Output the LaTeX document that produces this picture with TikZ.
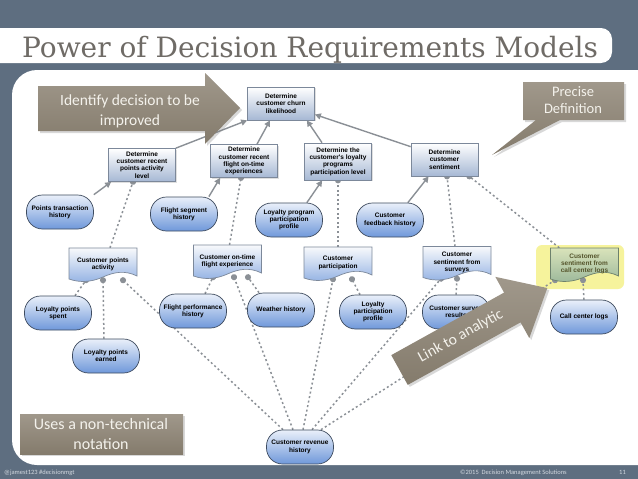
\documentclass[tikz,border=0pt]{standalone}
\usepackage{fontspec}
\usetikzlibrary{arrows.meta,shadows}

\newfontfamily\dmnfont{Liberation Sans}
\newfontfamily\callfont{Carlito}
\newfontfamily\titlefont{DejaVu Serif}

\definecolor{slate}{HTML}{5E6E80}
\definecolor{titleGray}{HTML}{6F6B66}
\definecolor{footText}{HTML}{D3D9E0}
\definecolor{taupeLight}{HTML}{A0988B}
\definecolor{taupeDark}{HTML}{847B6C}
\definecolor{calloutText}{HTML}{F4F2EC}
\definecolor{linkGray}{HTML}{8B9096}
\definecolor{boxEdge}{HTML}{7C889A}
\definecolor{boxBlue}{HTML}{A6B8D4}
\definecolor{ovalEdge}{HTML}{3E4B5F}
\definecolor{ovalBlue}{HTML}{6F98DA}
\definecolor{glow}{HTML}{F6F39C}
\definecolor{hiTop}{HTML}{D9E3BA}
\definecolor{hiBottom}{HTML}{9CB89B}
\definecolor{hiText}{HTML}{55552C}

\pgfdeclarelayer{paper}
\pgfdeclarelayer{edges}
\pgfsetlayers{paper,edges,main}

% knowledge source: box with a wavy bottom, then its text node
% #1 shape style, #2 name, #3 x, #4 y, #5 text
\newcommand{\ksource}[5][ksShape]{%
  \path[#1] ({#3-34},{#4-16}) -- ({#3+34},{#4-16}) -- ({#3+34},{#4+12})
    .. controls ({#3+22},{#4+6}) and ({#3+11},{#4+8}) .. ({#3},{#4+13})
    .. controls ({#3-11},{#4+18}) and ({#3-23},{#4+19}) .. ({#3-34},{#4+15})
    -- cycle;
  \node[ksText] (#2) at (#3,#4) {#5};%
}

\begin{document}
\begin{tikzpicture}[x=1pt,y=-1pt]
% y runs downwards, units are pixels of the slide

% style
\tikzset{
    dmnText/.style={font=\dmnfont\bfseries\fontsize{6.5}{7.3}\selectfont, align=center, inner sep=1pt},
    decision/.style={dmnText, draw=boxEdge, line width=0.7pt, top color=white, bottom color=boxBlue,
        minimum width=67, minimum height=33,
        drop shadow={shadow xshift=1pt, shadow yshift=-1pt, opacity=0.25}},
    inputData/.style={dmnText, draw=ovalEdge, line width=0.7pt, rounded corners=16pt,
        top color=white!85!ovalBlue, bottom color=ovalBlue, minimum width=67, minimum height=34},
    ksShape/.style={draw=boxEdge, line width=0.7pt, top color=white!92!boxBlue, bottom color=ovalBlue!75!white},
    ksHigh/.style={draw=hiBottom!70!black, line width=0.7pt, top color=hiTop, bottom color=hiBottom},
    ksText/.style={dmnText, minimum width=68, minimum height=32},
    infoReq/.style={draw=linkGray, line width=1.4pt, -{Triangle[length=6pt, width=6pt]}},
    authReq/.style={draw=linkGray, line width=1.5pt, dash pattern=on 2pt off 2.6pt,
        -{Circle[length=6pt]}, shorten >=-3pt},
    calloutFill/.style={top color=taupeLight, bottom color=taupeDark,
        drop shadow={shadow xshift=2pt, shadow yshift=-2pt, opacity=0.3}},
    calloutText/.style={text=calloutText, align=center, font=\callfont\fontsize{15.5}{20}\selectfont}
}

\useasboundingbox (0,0) rectangle (638,479);

% slide background
\begin{pgfonlayer}{paper}
\fill[slate] (0,0) rectangle (638,479);
\fill[white, rounded corners=11pt] (-20,28) rectangle (612,63);
\fill[white, rounded corners=25pt] (12,70) rectangle (670,465);
\fill[glow, rounded corners=6pt] (536,245) rectangle (624,289);
\end{pgfonlayer}

\node[anchor=base west, text=titleGray, font=\titlefont\fontsize{28}{28}\selectfont, inner sep=0pt] (title) at (22,57)
    {Power of Decision Requirements Models};

% decisions
\node[decision] (churn) at (281,103.5) {Determine\\customer churn\\likelihood};
\node[decision] (points) at (142,165) {Determine\\customer recent\\points activity\\level};
\node[decision] (flight) at (244,161) {Determine\\customer recent\\flight on-time\\experiences};
\node[decision, minimum height=37] (loyalty) at (338,161.5) {Determine the\\customer's loyalty\\programs\\participation level};
\node[decision] (sentiment) at (444.5,159.5) {Determine\\customer\\sentiment};

% knowledge sources
\ksource{pointsAct}{103}{264}{Customer points\\activity}
\ksource{onTime}{227.5}{261}{Customer on-time\\flight experience}
\ksource{partic}{338}{263}{Customer\\participation}
\ksource{surveys}{457}{262.5}{Customer\\sentiment from\\surveys}
\ksource[ksHigh]{callLogs}{584.5}{264}{\color{hiText}Customer\\\color{hiText}sentiment from\\\color{hiText}call center logs}

% input data
\node[inputData] (pointsTx) at (60,212) {Points transaction\\history};
\node[inputData] (segment) at (184,214) {Flight segment\\history};
\node[inputData] (progProfile) at (289,220) {Loyalty program\\participation\\profile};
\node[inputData] (feedback) at (390,220) {Customer\\feedback history};
\node[inputData] (spent) at (58,313) {Loyalty points\\spent};
\node[inputData] (earned) at (106,356) {Loyalty points\\earned};
\node[inputData] (perf) at (193,311) {Flight performance\\history};
\node[inputData] (weather) at (281,310) {Weather history};
\node[inputData] (partProfile) at (373,312) {Loyalty\\participation\\profile};
\node[inputData] (surveyRes) at (456,312) {Customer survey\\results};
\node[inputData] (callCenter) at (584,317) {Call center logs};
\node[inputData] (revenue) at (300,447) {Customer revenue\\history};

% requirements
\begin{pgfonlayer}{edges}
\draw[infoReq] (points.north east) -- (churn.south west);
\draw[infoReq] ([xshift=13pt]flight.north) -- ([xshift=-11pt]churn.south);
\draw[infoReq] ([xshift=-16pt]loyalty.north) -- ([xshift=-8pt]churn.south east);
\draw[infoReq] ([yshift=-4pt]sentiment.north west) -- ([yshift=-11pt]churn.east);
\draw[infoReq] (pointsTx.north east) -- ([xshift=3pt]points.south west);
\draw[infoReq] ([xshift=-9pt]segment.north east) -- ([xshift=10pt]flight.south west);
\draw[infoReq] ([xshift=-16pt]progProfile.north east) -- ([xshift=18pt]loyalty.south west);
\draw[infoReq] ([xshift=-16pt]feedback.north east) -- ([xshift=18pt]sentiment.south west);

\draw[authReq] ([xshift=7pt]pointsAct.north) -- ([xshift=-9pt]points.south);
\draw[authReq] ([xshift=2pt]onTime.north) -- ([xshift=-3pt]flight.south);
\draw[authReq] (partic.north) -- (loyalty.south);
\draw[authReq] ([xshift=-2pt]surveys.north) -- ([xshift=2.5pt]sentiment.south);
\draw[authReq] ([xshift=9pt]callLogs.north west) -- ([xshift=-9pt]sentiment.south east);

\draw[authReq] ([xshift=17pt]spent.north) -- ([xshift=-17pt]pointsAct.south);
\draw[authReq] ([xshift=-2pt]earned.north) -- (pointsAct.south);
\draw[authReq] ([xshift=-17pt]revenue.north) -- ([xshift=20pt]pointsAct.south);
\draw[authReq] ([xshift=12pt]perf.north) -- ([xshift=-14.5pt]onTime.south);
\draw[authReq] ([xshift=-7pt]revenue.north) -- ([xshift=6.5pt]onTime.south);
\draw[authReq] ([xshift=-22pt]weather.north) -- ([xshift=20.5pt]onTime.south);
\draw[authReq] ([xshift=3pt]revenue.north) -- ([xshift=-5pt]partic.south);
\draw[authReq] ([xshift=-13pt]partProfile.north) -- ([xshift=14pt]partic.south);
\draw[authReq] ([xshift=12pt]revenue.north) -- ([xshift=-16pt]surveys.south);
\draw[authReq] (surveyRes.north) -- (surveys.south);
\draw[authReq] ([xshift=21pt]revenue.north) -- ([xshift=-29.5pt]callLogs.south);
\draw[authReq] (callCenter.north) -- ([xshift=-1.5pt]callLogs.south);
\end{pgfonlayer}

% callouts
\path[calloutFill] (38,86) -- (205,86) -- (205,73) -- (240,108) -- (205,144) -- (205,131) -- (38,131) -- cycle;
\node[calloutText] (identify) at (130,111) {Identify decision to be\\improved};

\path[calloutFill] (523,82) -- (624,82) -- (624,120) -- (560,120) -- (492,155) -- (536,120) -- (523,120) -- cycle;
\node[calloutText, font=\callfont\fontsize{14.5}{16.5}\selectfont] (precise) at (573,100) {Precise\\Definition};

\path[calloutFill] (20,414) rectangle (183,454);
\node[calloutText, font=\callfont\fontsize{16}{20}\selectfont] (nonTech) at (101,434) {Uses a non-technical\\notation};

\begin{scope}[shift={(399.5,370)}, rotate=29]
  \path[calloutFill] (0,-17) -- (129,-17) -- (129,-35) -- (169,0) -- (129,35) -- (129,17) -- (0,17) -- cycle;
  \node[calloutText, rotate=29] (linkText) at (70,0) {Link to analytic};
\end{scope}

% footer
\node[anchor=base west, text=footText, font=\callfont\fontsize{6.5}{7}\selectfont, inner sep=0pt] (handle) at (4,474) {@jamest123 \#decisionmgt};
\node[anchor=base west, text=footText, font=\callfont\fontsize{6.5}{7}\selectfont, inner sep=0pt] (copyright) at (460,474) {\textcopyright2015\ \ Decision Management Solutions};
\node[anchor=base west, text=footText, font=\callfont\fontsize{6.5}{7}\selectfont, inner sep=0pt] (pageNo) at (619,474) {11};

\end{tikzpicture}
\end{document}
